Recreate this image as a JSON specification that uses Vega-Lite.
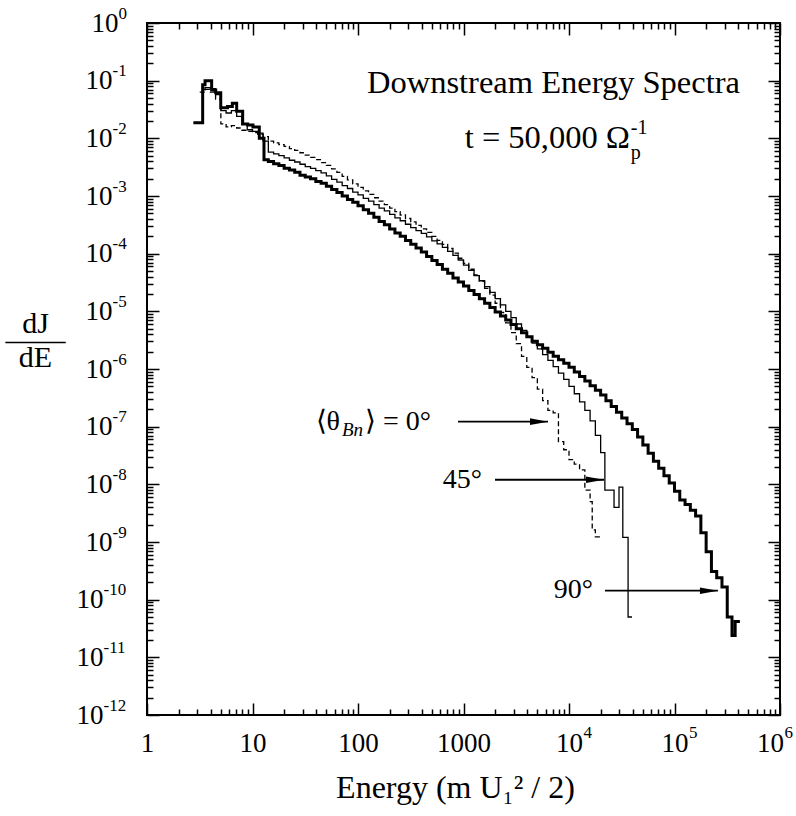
{
  "$schema": "https://vega.github.io/schema/vega-lite/v6.json",
  "width": 633,
  "height": 692,
  "autosize": {"type": "none"},
  "padding": {"left": 147, "top": 23, "right": 16, "bottom": 101},
  "background": "white",
  "config": {
    "view": {"stroke": "black", "strokeWidth": 2},
    "axis": {"labelFont": "Liberation Serif", "titleFont": "Liberation Serif", "labelColor": "black", "titleColor": "black", "tickColor": "black"},
    "text": {"font": "Liberation Serif", "color": "black"}
  },
  "datasets": {
    "spectra": [
      {"s":"90","E":2.75,"J":1.86e-2},{"s":"90","E":3.37,"J":8.51e-2},{"s":"90","E":3.55,"J":1.0e-1},{"s":"90","E":4.1,"J":6.92e-2},{"s":"90","E":4.48,"J":6.17e-2},{"s":"90","E":5.0,"J":3.39e-2},{"s":"90","E":5.8,"J":3.55e-2},{"s":"90","E":6.44,"J":4.07e-2},{"s":"90","E":7.08,"J":2.95e-2},{"s":"90","E":8.07,"J":1.78e-2},{"s":"90","E":9.0,"J":1.70e-2},{"s":"90","E":10.1,"J":1.58e-2},{"s":"90","E":11.6,"J":1.0e-2},{"s":"90","E":12.85,"J":4.27e-3},{"s":"90","E":14.13,"J":3.98e-3},{"s":"90","E":15.85,"J":3.63e-3},{"s":"90","E":17.78,"J":3.39e-3},{"s":"90","E":19.95,"J":3.02e-3},{"s":"90","E":22.39,"J":2.82e-3},{"s":"90","E":25.12,"J":2.57e-3},{"s":"90","E":28.18,"J":2.29e-3},{"s":"90","E":31.62,"J":2.14e-3},{"s":"90","E":35.48,"J":2.0e-3},{"s":"90","E":39.81,"J":1.78e-3},{"s":"90","E":44.67,"J":1.66e-3},{"s":"90","E":50.12,"J":1.48e-3},{"s":"90","E":56.23,"J":1.29e-3},{"s":"90","E":63.1,"J":1.15e-3},{"s":"90","E":70.79,"J":1.0e-3},{"s":"90","E":79.43,"J":8.71e-4},{"s":"90","E":89.13,"J":7.76e-4},{"s":"90","E":100,"J":6.76e-4},{"s":"90","E":112.2,"J":5.75e-4},{"s":"90","E":125.9,"J":5.01e-4},{"s":"90","E":141.3,"J":4.27e-4},{"s":"90","E":158.5,"J":3.63e-4},{"s":"90","E":177.8,"J":3.16e-4},{"s":"90","E":199.5,"J":2.69e-4},{"s":"90","E":223.9,"J":2.29e-4},{"s":"90","E":251.2,"J":2.0e-4},{"s":"90","E":281.8,"J":1.70e-4},{"s":"90","E":316.2,"J":1.45e-4},{"s":"90","E":354.8,"J":1.26e-4},{"s":"90","E":398.1,"J":1.07e-4},{"s":"90","E":446.7,"J":8.91e-5},{"s":"90","E":501.2,"J":7.59e-5},{"s":"90","E":562.3,"J":6.46e-5},{"s":"90","E":631,"J":5.37e-5},{"s":"90","E":707.9,"J":4.57e-5},{"s":"90","E":794.3,"J":3.80e-5},{"s":"90","E":891.3,"J":3.24e-5},{"s":"90","E":1000,"J":2.75e-5},{"s":"90","E":1122,"J":2.29e-5},{"s":"90","E":1259,"J":1.95e-5},{"s":"90","E":1413,"J":1.66e-5},{"s":"90","E":1585,"J":1.38e-5},{"s":"90","E":1778,"J":1.17e-5},{"s":"90","E":1995,"J":9.77e-6},{"s":"90","E":2239,"J":8.32e-6},{"s":"90","E":2512,"J":7.08e-6},{"s":"90","E":2818,"J":5.89e-6},{"s":"90","E":3162,"J":5.01e-6},{"s":"90","E":3548,"J":4.27e-6},{"s":"90","E":3981,"J":3.63e-6},{"s":"90","E":4467,"J":3.02e-6},{"s":"90","E":5012,"J":2.63e-6},{"s":"90","E":5623,"J":2.29e-6},{"s":"90","E":6310,"J":1.95e-6},{"s":"90","E":7079,"J":1.66e-6},{"s":"90","E":7943,"J":1.45e-6},{"s":"90","E":8913,"J":1.26e-6},{"s":"90","E":10000,"J":1.07e-6},{"s":"90","E":11220,"J":8.91e-7},{"s":"90","E":12590,"J":7.41e-7},{"s":"90","E":14130,"J":6.17e-7},{"s":"90","E":15850,"J":5.13e-7},{"s":"90","E":17780,"J":4.27e-7},{"s":"90","E":19950,"J":3.55e-7},{"s":"90","E":22390,"J":2.82e-7},{"s":"90","E":25120,"J":2.24e-7},{"s":"90","E":28180,"J":1.78e-7},{"s":"90","E":31620,"J":1.41e-7},{"s":"90","E":35480,"J":1.12e-7},{"s":"90","E":39810,"J":8.91e-8},{"s":"90","E":44670,"J":6.61e-8},{"s":"90","E":50120,"J":4.79e-8},{"s":"90","E":56230,"J":3.47e-8},{"s":"90","E":63100,"J":2.51e-8},{"s":"90","E":70790,"J":1.91e-8},{"s":"90","E":79430,"J":1.41e-8},{"s":"90","E":89130,"J":1.05e-8},{"s":"90","E":100000,"J":7.59e-9},{"s":"90","E":112200,"J":5.37e-9},{"s":"90","E":125900,"J":4.47e-9},{"s":"90","E":141300,"J":3.55e-9},{"s":"90","E":158500,"J":2.82e-9},{"s":"90","E":177800,"J":1.45e-9},{"s":"90","E":199500,"J":6.76e-10},{"s":"90","E":223900,"J":3.09e-10},{"s":"90","E":251200,"J":2.40e-10},{"s":"90","E":281800,"J":1.66e-10},{"s":"90","E":316200,"J":5.01e-11},{"s":"90","E":350800,"J":2.40e-11},{"s":"90","E":375800,"J":4.17e-11},{"s":"90","E":416900,"J":4.17e-11},
      {"s":"45","E":3.31,"J":6.92e-2},{"s":"45","E":3.548,"J":7.59e-2},{"s":"45","E":3.981,"J":7.24e-2},{"s":"45","E":4.467,"J":5.75e-2},{"s":"45","E":5.012,"J":3.02e-2},{"s":"45","E":5.623,"J":2.75e-2},{"s":"45","E":6.31,"J":3.02e-2},{"s":"45","E":7.079,"J":2.40e-2},{"s":"45","E":7.943,"J":1.74e-2},{"s":"45","E":8.913,"J":1.41e-2},{"s":"45","E":10,"J":1.32e-2},{"s":"45","E":11.22,"J":1.23e-2},{"s":"45","E":12.59,"J":8.91e-3},{"s":"45","E":14.13,"J":5.75e-3},{"s":"45","E":15.85,"J":5.37e-3},{"s":"45","E":17.78,"J":5.01e-3},{"s":"45","E":19.95,"J":4.57e-3},{"s":"45","E":22.39,"J":4.17e-3},{"s":"45","E":25.12,"J":3.89e-3},{"s":"45","E":28.18,"J":3.55e-3},{"s":"45","E":31.62,"J":3.24e-3},{"s":"45","E":35.48,"J":3.02e-3},{"s":"45","E":39.81,"J":2.75e-3},{"s":"45","E":44.67,"J":2.51e-3},{"s":"45","E":50.12,"J":2.24e-3},{"s":"45","E":56.23,"J":1.95e-3},{"s":"45","E":63.1,"J":1.74e-3},{"s":"45","E":70.79,"J":1.51e-3},{"s":"45","E":79.43,"J":1.35e-3},{"s":"45","E":89.13,"J":1.17e-3},{"s":"45","E":100,"J":1.05e-3},{"s":"45","E":112.2,"J":9.12e-4},{"s":"45","E":125.9,"J":8.13e-4},{"s":"45","E":141.3,"J":7.08e-4},{"s":"45","E":158.5,"J":6.17e-4},{"s":"45","E":177.8,"J":5.50e-4},{"s":"45","E":199.5,"J":4.79e-4},{"s":"45","E":223.9,"J":4.17e-4},{"s":"45","E":251.2,"J":3.72e-4},{"s":"45","E":281.8,"J":3.24e-4},{"s":"45","E":316.2,"J":2.82e-4},{"s":"45","E":354.8,"J":2.51e-4},{"s":"45","E":398.1,"J":2.24e-4},{"s":"45","E":446.7,"J":1.95e-4},{"s":"45","E":501.2,"J":1.66e-4},{"s":"45","E":562.3,"J":1.48e-4},{"s":"45","E":631,"J":1.29e-4},{"s":"45","E":707.9,"J":1.10e-4},{"s":"45","E":794.3,"J":9.33e-5},{"s":"45","E":891.3,"J":7.76e-5},{"s":"45","E":1000,"J":6.31e-5},{"s":"45","E":1122,"J":5.13e-5},{"s":"45","E":1259,"J":4.17e-5},{"s":"45","E":1413,"J":3.39e-5},{"s":"45","E":1585,"J":2.69e-5},{"s":"45","E":1778,"J":2.14e-5},{"s":"45","E":1995,"J":1.66e-5},{"s":"45","E":2239,"J":1.29e-5},{"s":"45","E":2512,"J":1.0e-5},{"s":"45","E":2818,"J":7.76e-6},{"s":"45","E":3162,"J":6.03e-6},{"s":"45","E":3548,"J":4.68e-6},{"s":"45","E":3981,"J":3.63e-6},{"s":"45","E":4467,"J":2.82e-6},{"s":"45","E":5012,"J":2.24e-6},{"s":"45","E":5623,"J":1.78e-6},{"s":"45","E":6310,"J":1.41e-6},{"s":"45","E":7079,"J":1.10e-6},{"s":"45","E":7943,"J":8.51e-7},{"s":"45","E":8913,"J":6.61e-7},{"s":"45","E":10000,"J":5.01e-7},{"s":"45","E":11220,"J":3.72e-7},{"s":"45","E":12590,"J":2.69e-7},{"s":"45","E":14130,"J":1.91e-7},{"s":"45","E":15850,"J":1.26e-7},{"s":"45","E":17780,"J":7.08e-8},{"s":"45","E":19950,"J":3.55e-8},{"s":"45","E":21880,"J":7.94e-9},{"s":"45","E":26730,"J":3.98e-9},{"s":"45","E":29790,"J":8.91e-9},{"s":"45","E":32360,"J":1.20e-9},{"s":"45","E":36310,"J":5.01e-11},{"s":"45","E":39540,"J":5.01e-11},
      {"s":"0","E":3.162,"J":6.31e-2},{"s":"0","E":3.548,"J":7.08e-2},{"s":"0","E":3.981,"J":6.31e-2},{"s":"0","E":4.467,"J":4.79e-2},{"s":"0","E":5.012,"J":1.78e-2},{"s":"0","E":5.623,"J":1.58e-2},{"s":"0","E":6.31,"J":1.66e-2},{"s":"0","E":7.079,"J":1.51e-2},{"s":"0","E":7.943,"J":1.38e-2},{"s":"0","E":8.913,"J":1.32e-2},{"s":"0","E":10,"J":1.26e-2},{"s":"0","E":11.22,"J":1.17e-2},{"s":"0","E":12.59,"J":1.07e-2},{"s":"0","E":14.13,"J":8.91e-3},{"s":"0","E":15.85,"J":8.32e-3},{"s":"0","E":17.78,"J":7.76e-3},{"s":"0","E":19.95,"J":7.24e-3},{"s":"0","E":22.39,"J":6.61e-3},{"s":"0","E":25.12,"J":6.17e-3},{"s":"0","E":28.18,"J":5.62e-3},{"s":"0","E":31.62,"J":5.13e-3},{"s":"0","E":35.48,"J":4.68e-3},{"s":"0","E":39.81,"J":4.27e-3},{"s":"0","E":44.67,"J":3.80e-3},{"s":"0","E":50.12,"J":3.39e-3},{"s":"0","E":56.23,"J":2.95e-3},{"s":"0","E":63.1,"J":2.57e-3},{"s":"0","E":70.79,"J":2.19e-3},{"s":"0","E":79.43,"J":1.91e-3},{"s":"0","E":89.13,"J":1.62e-3},{"s":"0","E":100,"J":1.41e-3},{"s":"0","E":112.2,"J":1.23e-3},{"s":"0","E":125.9,"J":1.07e-3},{"s":"0","E":141.3,"J":9.33e-4},{"s":"0","E":158.5,"J":8.13e-4},{"s":"0","E":177.8,"J":7.08e-4},{"s":"0","E":199.5,"J":6.17e-4},{"s":"0","E":223.9,"J":5.37e-4},{"s":"0","E":251.2,"J":4.68e-4},{"s":"0","E":281.8,"J":4.07e-4},{"s":"0","E":316.2,"J":3.55e-4},{"s":"0","E":354.8,"J":3.09e-4},{"s":"0","E":398.1,"J":2.69e-4},{"s":"0","E":446.7,"J":2.34e-4},{"s":"0","E":501.2,"J":2.0e-4},{"s":"0","E":562.3,"J":1.70e-4},{"s":"0","E":631,"J":1.45e-4},{"s":"0","E":707.9,"J":1.23e-4},{"s":"0","E":794.3,"J":1.02e-4},{"s":"0","E":891.3,"J":8.32e-5},{"s":"0","E":1000,"J":6.76e-5},{"s":"0","E":1122,"J":5.37e-5},{"s":"0","E":1259,"J":4.27e-5},{"s":"0","E":1413,"J":3.31e-5},{"s":"0","E":1585,"J":2.51e-5},{"s":"0","E":1778,"J":1.91e-5},{"s":"0","E":1995,"J":1.38e-5},{"s":"0","E":2239,"J":9.55e-6},{"s":"0","E":2512,"J":6.31e-6},{"s":"0","E":2818,"J":4.27e-6},{"s":"0","E":3162,"J":2.75e-6},{"s":"0","E":3548,"J":1.66e-6},{"s":"0","E":3981,"J":1.07e-6},{"s":"0","E":4467,"J":7.08e-7},{"s":"0","E":5012,"J":4.47e-7},{"s":"0","E":5623,"J":2.82e-7},{"s":"0","E":6310,"J":1.91e-7},{"s":"0","E":7079,"J":1.74e-7},{"s":"0","E":7943,"J":5.50e-8},{"s":"0","E":8913,"J":3.98e-8},{"s":"0","E":10000,"J":2.69e-8},{"s":"0","E":11220,"J":2.24e-8},{"s":"0","E":12590,"J":1.78e-8},{"s":"0","E":14130,"J":7.94e-9},{"s":"0","E":15850,"J":5.01e-9},{"s":"0","E":16600,"J":1.62e-9},{"s":"0","E":17780,"J":1.23e-9},{"s":"0","E":19950,"J":1.23e-9}
    ],
    "arrows": [
      {"E1": 887, "E2": 6324, "J": 1.22e-7},
      {"E1": 1990, "E2": 21470, "J": 1.2e-8},
      {"E1": 21930, "E2": 258000, "J": 1.43e-10}
    ],
    "notes": [
      {"k": "R", "E": 417800, "J": 0.091, "t": "Downstream Energy Spectra"},
      {"k": "R", "E": 37870, "J": 0.01016, "t": "t = 50,000 Ω"},
      {"k": "S", "E": 38500, "J": 0.0056, "t": "p"},
      {"k": "S", "E": 38500, "J": 0.0151, "t": "-1"},
      {"k": "A", "E": 67.5, "J": 1.22e-7, "t": "⟨θ"},
      {"k": "I", "E": 70.5, "J": 8.83e-8, "t": "Bn"},
      {"k": "L", "E": 116.5, "J": 1.22e-7, "t": "⟩ = 0°"},
      {"k": "A", "E": 1496, "J": 1.2e-8, "t": "45°"},
      {"k": "A", "E": 16870, "J": 1.49e-10, "t": "90°"}
    ]
  },
  "resolve": {"axis": {"x": "independent", "y": "independent"}},
  "layer": [
    {
      "data": {"name": "spectra"},
      "transform": [{"filter": "datum.s == '90'"}],
      "mark": {"type": "line", "interpolate": "step-after", "color": "black", "strokeWidth": 3, "strokeJoin": "miter"},
      "encoding": {
        "x": {"field": "E", "type": "quantitative", "scale": {"type": "log", "domain": [1, 1000000], "nice": false},
          "axis": {"orient": "bottom", "values": [1, 10, 100, 1000, 10000, 100000, 1000000], "ticks": false, "domain": false, "grid": false,
            "labelFontSize": 27, "labelPadding": 15, "labelFlush": false, "labelOverlap": false,
            "labelOffset": {"condition": {"test": "datum.value > 500000", "value": -10}, "value": 0},
            "labelExpr": "datum.value < 5000 ? format(datum.value, 'd') : '10'",
            "title": "Energy (m U₁² / 2)", "titleFontSize": 32, "titleFontWeight": "normal", "titleX": 308, "titleY": 72, "titleAlign": "center", "titleBaseline": "middle"}},
        "y": {"field": "J", "type": "quantitative", "scale": {"type": "log", "domain": [1e-12, 1], "nice": false},
          "axis": {"orient": "left", "values": [1e-12, 1e-11, 1e-10, 1e-9, 1e-8, 1e-7, 1e-6, 1e-5, 1e-4, 1e-3, 1e-2, 1e-1, 1], "ticks": false, "domain": false, "grid": false,
            "labelFontSize": 27, "labelFlush": false, "labelOverlap": false, "labelBaseline": "middle", "labelAlign": "right",
            "labelPadding": {"condition": [{"test": "datum.value < 5e-10", "value": 44}, {"test": "datum.value > 0.5", "value": 29}], "value": 35},
            "labelExpr": "'10'",
            "title": ["dJ", "——", "dE"], "titleAngle": 0, "titleFontSize": 30, "titleFontWeight": "normal", "titleLineHeight": 17,
            "titleX": -112, "titleY": 300, "titleAlign": "center", "titleBaseline": "middle"}}
      }
    },
    {
      "data": {"name": "spectra"},
      "transform": [{"filter": "datum.s == '45'"}],
      "mark": {"type": "line", "interpolate": "step-after", "color": "black", "strokeWidth": 1.3},
      "encoding": {
        "x": {"field": "E", "type": "quantitative", "scale": {"type": "log", "domain": [1, 1000000], "nice": false},
          "axis": {"orient": "bottom", "values": [10000, 100000, 1000000], "ticks": false, "domain": false, "grid": false,
            "labelFontSize": 17, "labelPadding": 9, "labelFlush": false, "labelOverlap": false, "labelAlign": "left",
            "labelOffset": {"condition": {"test": "datum.value > 500000", "value": 4}, "value": 14},
            "labelExpr": "'' + round(log(datum.value)/LN10)", "title": null}},
        "y": {"field": "J", "type": "quantitative", "scale": {"type": "log", "domain": [1e-12, 1], "nice": false},
          "axis": {"orient": "left", "values": [1e-12, 1e-11, 1e-10, 1e-9, 1e-8, 1e-7, 1e-6, 1e-5, 1e-4, 1e-3, 1e-2, 1e-1, 1], "ticks": false, "domain": false, "grid": false,
            "labelFontSize": 17, "labelFlush": false, "labelOverlap": false, "labelBaseline": "middle", "labelAlign": "left", "labelOffset": -10,
            "labelPadding": {"condition": [{"test": "datum.value < 5e-10", "value": 44}, {"test": "datum.value > 0.5", "value": 29}], "value": 35},
            "labelExpr": "datum.value > 0.5 ? '0' : '-' + round(-log(datum.value)/LN10)", "title": null}}
      }
    },
    {
      "data": {"name": "spectra"},
      "transform": [{"filter": "datum.s == '0'"}],
      "mark": {"type": "line", "interpolate": "step-after", "color": "black", "strokeWidth": 1.3, "strokeDash": [5, 3]},
      "encoding": {
        "x": {"field": "E", "type": "quantitative", "scale": {"type": "log", "domain": [1, 1000000], "nice": false},
          "axis": {"orient": "bottom", "values": [1, 10, 100, 1000, 10000, 100000, 1000000], "labels": false, "domain": false, "grid": false, "tickSize": -12, "tickWidth": 1.5, "title": null}},
        "y": {"field": "J", "type": "quantitative", "scale": {"type": "log", "domain": [1e-12, 1], "nice": false},
          "axis": {"orient": "left", "values": [1e-12, 1e-11, 1e-10, 1e-9, 1e-8, 1e-7, 1e-6, 1e-5, 1e-4, 1e-3, 1e-2, 1e-1, 1], "labels": false, "domain": false, "grid": false, "tickSize": -12, "tickWidth": 1.5, "title": null}}
      }
    },
    {
      "data": {"name": "arrows"},
      "mark": {"type": "rule", "color": "black", "strokeWidth": 1.8},
      "encoding": {
        "x": {"field": "E1", "type": "quantitative", "scale": {"type": "log", "domain": [1, 1000000], "nice": false},
          "axis": {"orient": "bottom", "values": [2,3,4,5,6,7,8,9,20,30,40,50,60,70,80,90,200,300,400,500,600,700,800,900,2000,3000,4000,5000,6000,7000,8000,9000,20000,30000,40000,50000,60000,70000,80000,90000,200000,300000,400000,500000,600000,700000,800000,900000], "labels": false, "domain": false, "grid": false, "tickSize": -6, "tickWidth": 1.5, "title": null}},
        "x2": {"field": "E2"},
        "y": {"field": "J", "type": "quantitative", "scale": {"type": "log", "domain": [1e-12, 1], "nice": false},
          "axis": {"orient": "left", "values": [2e-12,3e-12,4e-12,5e-12,6e-12,7e-12,8e-12,9e-12,2e-11,3e-11,4e-11,5e-11,6e-11,7e-11,8e-11,9e-11,2e-10,3e-10,4e-10,5e-10,6e-10,7e-10,8e-10,9e-10,2e-9,3e-9,4e-9,5e-9,6e-9,7e-9,8e-9,9e-9,2e-8,3e-8,4e-8,5e-8,6e-8,7e-8,8e-8,9e-8,2e-7,3e-7,4e-7,5e-7,6e-7,7e-7,8e-7,9e-7,2e-6,3e-6,4e-6,5e-6,6e-6,7e-6,8e-6,9e-6,2e-5,3e-5,4e-5,5e-5,6e-5,7e-5,8e-5,9e-5,2e-4,3e-4,4e-4,5e-4,6e-4,7e-4,8e-4,9e-4,2e-3,3e-3,4e-3,5e-3,6e-3,7e-3,8e-3,9e-3,2e-2,3e-2,4e-2,5e-2,6e-2,7e-2,8e-2,9e-2,0.2,0.3,0.4,0.5,0.6,0.7,0.8,0.9], "labels": false, "domain": false, "grid": false, "tickSize": -6, "tickWidth": 1.5, "title": null}}
      }
    },
    {
      "data": {"name": "arrows"},
      "mark": {"type": "point", "filled": true, "color": "black", "opacity": 1, "size": 324, "strokeWidth": 0, "shape": "M -2 -0.37 L 0 0 L -2 0.37 Z"},
      "encoding": {
        "x": {"field": "E2", "type": "quantitative", "scale": {"type": "log", "domain": [1, 1000000], "nice": false},
          "axis": {"orient": "top", "values": [1, 10, 100, 1000, 10000, 100000, 1000000], "labels": false, "domain": false, "grid": false, "tickSize": -12, "tickWidth": 1.5, "title": null}},
        "y": {"field": "J", "type": "quantitative", "scale": {"type": "log", "domain": [1e-12, 1], "nice": false},
          "axis": {"orient": "right", "values": [1e-12, 1e-11, 1e-10, 1e-9, 1e-8, 1e-7, 1e-6, 1e-5, 1e-4, 1e-3, 1e-2, 1e-1, 1], "labels": false, "domain": false, "grid": false, "tickSize": -12, "tickWidth": 1.5, "title": null}}
      }
    },
    {
      "data": {"name": "notes"},
      "transform": [{"filter": "datum.k == 'R'"}],
      "mark": {"type": "text", "align": "right", "baseline": "middle", "fontSize": 32.5, "font": "Liberation Serif", "color": "black"},
      "encoding": {
        "x": {"field": "E", "type": "quantitative", "scale": {"type": "log", "domain": [1, 1000000], "nice": false},
          "axis": {"orient": "top", "values": [2,3,4,5,6,7,8,9,20,30,40,50,60,70,80,90,200,300,400,500,600,700,800,900,2000,3000,4000,5000,6000,7000,8000,9000,20000,30000,40000,50000,60000,70000,80000,90000,200000,300000,400000,500000,600000,700000,800000,900000], "labels": false, "domain": false, "grid": false, "tickSize": -6, "tickWidth": 1.5, "title": null}},
        "y": {"field": "J", "type": "quantitative", "scale": {"type": "log", "domain": [1e-12, 1], "nice": false},
          "axis": {"orient": "right", "values": [2e-12,3e-12,4e-12,5e-12,6e-12,7e-12,8e-12,9e-12,2e-11,3e-11,4e-11,5e-11,6e-11,7e-11,8e-11,9e-11,2e-10,3e-10,4e-10,5e-10,6e-10,7e-10,8e-10,9e-10,2e-9,3e-9,4e-9,5e-9,6e-9,7e-9,8e-9,9e-9,2e-8,3e-8,4e-8,5e-8,6e-8,7e-8,8e-8,9e-8,2e-7,3e-7,4e-7,5e-7,6e-7,7e-7,8e-7,9e-7,2e-6,3e-6,4e-6,5e-6,6e-6,7e-6,8e-6,9e-6,2e-5,3e-5,4e-5,5e-5,6e-5,7e-5,8e-5,9e-5,2e-4,3e-4,4e-4,5e-4,6e-4,7e-4,8e-4,9e-4,2e-3,3e-3,4e-3,5e-3,6e-3,7e-3,8e-3,9e-3,2e-2,3e-2,4e-2,5e-2,6e-2,7e-2,8e-2,9e-2,0.2,0.3,0.4,0.5,0.6,0.7,0.8,0.9], "labels": false, "domain": false, "grid": false, "tickSize": -6, "tickWidth": 1.5, "title": null}},
        "text": {"field": "t"}
      }
    },
    {
      "data": {"name": "notes"},
      "transform": [{"filter": "datum.k == 'A'"}],
      "mark": {"type": "text", "align": "right", "baseline": "middle", "fontSize": 28, "font": "Liberation Serif", "color": "black"},
      "encoding": {
        "x": {"field": "E", "type": "quantitative", "scale": {"type": "log", "domain": [1, 1000000], "nice": false}, "axis": null},
        "y": {"field": "J", "type": "quantitative", "scale": {"type": "log", "domain": [1e-12, 1], "nice": false}, "axis": null},
        "text": {"field": "t"}
      }
    },
    {
      "data": {"name": "notes"},
      "transform": [{"filter": "datum.k == 'L'"}],
      "mark": {"type": "text", "align": "left", "baseline": "middle", "fontSize": 28, "font": "Liberation Serif", "color": "black"},
      "encoding": {
        "x": {"field": "E", "type": "quantitative", "scale": {"type": "log", "domain": [1, 1000000], "nice": false}, "axis": null},
        "y": {"field": "J", "type": "quantitative", "scale": {"type": "log", "domain": [1e-12, 1], "nice": false}, "axis": null},
        "text": {"field": "t"}
      }
    },
    {
      "data": {"name": "notes"},
      "transform": [{"filter": "datum.k == 'S'"}],
      "mark": {"type": "text", "align": "left", "baseline": "middle", "fontSize": 20, "font": "Liberation Serif", "color": "black"},
      "encoding": {
        "x": {"field": "E", "type": "quantitative", "scale": {"type": "log", "domain": [1, 1000000], "nice": false}, "axis": null},
        "y": {"field": "J", "type": "quantitative", "scale": {"type": "log", "domain": [1e-12, 1], "nice": false}, "axis": null},
        "text": {"field": "t"}
      }
    },
    {
      "data": {"name": "notes"},
      "transform": [{"filter": "datum.k == 'I'"}],
      "mark": {"type": "text", "align": "left", "baseline": "middle", "fontSize": 19, "fontStyle": "italic", "font": "Liberation Serif", "color": "black"},
      "encoding": {
        "x": {"field": "E", "type": "quantitative", "scale": {"type": "log", "domain": [1, 1000000], "nice": false}, "axis": null},
        "y": {"field": "J", "type": "quantitative", "scale": {"type": "log", "domain": [1e-12, 1], "nice": false}, "axis": null},
        "text": {"field": "t"}
      }
    }
  ]
}
